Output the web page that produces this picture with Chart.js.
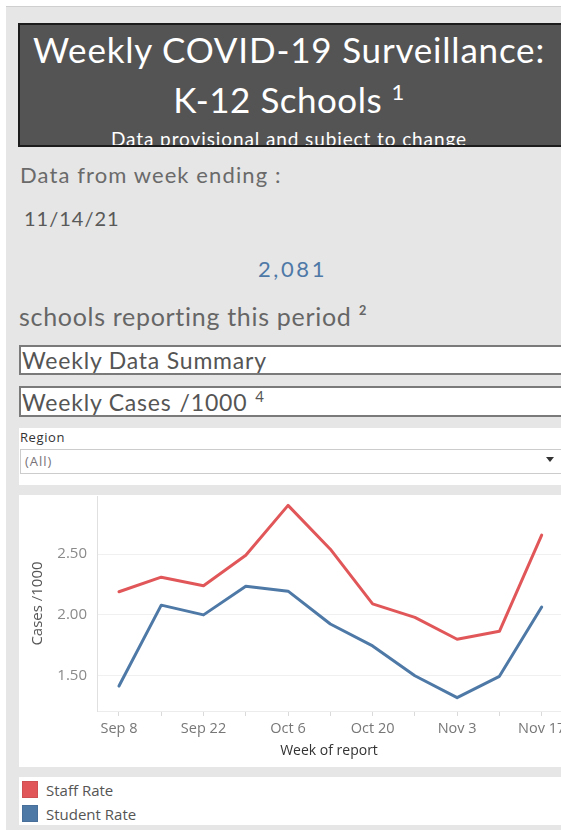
<!DOCTYPE html>
<html>
<head>
<meta charset="utf-8">
<script src="https://cdn.jsdelivr.net/npm/chart.js@4.4.0/dist/chart.umd.min.js"></script>
<style>
  html, body { margin:0; padding:0; width:561px; height:830px; overflow:hidden; background:#ffffff; }
  .abs { position:absolute; white-space:pre; }
  #bg { left:6px; top:6px; width:600px; height:830px; background:#e6e6e6; border-top:1px solid #cfcfcf; }
  #header { left:18px; top:23px; width:600px; height:120px; background:#545454; border:2px solid #1c1c1c; overflow:hidden; }
  .htxt { left:-20px; width:578px; text-align:center; color:#ffffff; font-family:Lato, "Open Sans", sans-serif; }
  .lato { font-family:Lato, "Open Sans", sans-serif; }
  .box { left:19px; width:600px; background:#fff; border:2px solid #7a7a7a; }
  .panel { left:19px; width:600px; background:#fff; }
  .os { font-family:"Open Sans", sans-serif; }
  #chartWrap { position:absolute; left:19px; top:495px; width:542px; height:272px; }
  #chartWrap canvas { display:block; }
</style>
</head>
<body>
<div id="bg" class="abs"></div>
<div id="header" class="abs">
  <div class="abs htxt" style="top:7px; font-size:35px; line-height:35px; letter-spacing:0.8px;">Weekly COVID-19 Surveillance:</div>
  <div class="abs htxt" style="top:57px; font-size:35px; line-height:35px; letter-spacing:0.5px;">K-12 Schools <span style="font-size:22px; position:relative; top:-13px;">1</span></div>
  <div class="abs htxt" style="top:104px; font-size:19px; line-height:19px; letter-spacing:0.9px;">Data provisional and subject to change</div>
</div>

<div class="abs lato" style="left:20px; top:164px; font-size:22px; line-height:22px; letter-spacing:1.1px; color:#6a6a6a;">Data from week ending :</div>
<div class="abs lato" style="left:24px; top:208px; font-size:20px; line-height:20px; letter-spacing:1px; color:#595959;">11/14/21</div>
<div class="abs lato" style="left:258px; top:258px; font-size:22px; line-height:22px; letter-spacing:2.6px; color:#4e79a7;">2,081</div>
<div class="abs lato" style="left:19px; top:304px; font-size:25px; line-height:25px; letter-spacing:0.7px; color:#666666;">schools reporting this period ²</div>

<div class="abs box" style="top:345px; height:26px;"></div>
<div class="abs lato" style="left:22px; top:349px; font-size:23px; line-height:23px; letter-spacing:0.8px; color:#555;">Weekly Data Summary</div>
<div class="abs box" style="top:386px; height:27px;"></div>
<div class="abs lato" style="left:22px; top:391px; font-size:23px; line-height:23px; letter-spacing:0.8px; color:#555;">Weekly Cases<span style="margin-left:8px;">/1000</span><span style="margin-left:8px; font-size:15px; position:relative; top:-9px;">4</span></div>

<div class="abs panel" style="top:428px; height:57px;"></div>
<div class="abs os" style="left:20px; top:431px; font-size:13px; line-height:13px; letter-spacing:0.6px; color:#333;">Region</div>
<div class="abs" style="left:20px; top:449px; width:600px; height:23px; border:1px solid #cccccc; background:#fff;"></div>
<div class="abs os" style="left:25px; top:455px; font-size:13px; line-height:13px; letter-spacing:1px; color:#787378;">(All)</div>
<div class="abs" style="left:546px; top:457px; width:0; height:0; border-left:4px solid transparent; border-right:4px solid transparent; border-top:5px solid #333;"></div>

<div class="abs panel" style="top:495px; height:272px;"></div>
<div id="chartWrap"><canvas id="c" width="542" height="272" style="width:542px;height:272px;"></canvas></div>

<div class="abs panel" style="top:777px; height:48px;" id="legend"></div>

<script>
const weeks = ['Sep 8','Sep 15','Sep 22','Sep 29','Oct 6','Oct 13','Oct 20','Oct 27','Nov 3','Nov 10','Nov 17'];
const staffRate   = [2.19, 2.31, 2.24, 2.49, 2.90, 2.54, 2.09, 1.98, 1.80, 1.865, 2.655];
const studentRate = [1.415, 2.08, 2.00, 2.235, 2.195, 1.925, 1.745, 1.50, 1.32, 1.495, 2.065];
const seriesNames = ['Staff Rate', 'Student Rate'];
const seriesColors = ['#e15759', '#4e79a7'];
const yTicks = [1.5, 2.0, 2.5];

const toPts = arr => arr.map((v, i) => ({ x: i, y: v }));

const chart = new Chart(document.getElementById('c'), {
  type: 'line',
  data: {
    datasets: [
      { label: seriesNames[0], data: toPts(staffRate), borderColor: seriesColors[0], backgroundColor: seriesColors[0] },
      { label: seriesNames[1], data: toPts(studentRate), borderColor: seriesColors[1], backgroundColor: seriesColors[1] }
    ]
  },
  options: {
    responsive: false,
    animation: false,
    devicePixelRatio: 1,
    layout: { padding: { top: 1, left: 0, right: 0, bottom: 0 }, autoPadding: false },
    elements: {
      point: { radius: 0, hoverRadius: 0 },
      line: { borderWidth: 3, tension: 0, borderJoinStyle: 'round', borderCapStyle: 'round' }
    },
    plugins: { legend: { display: false }, tooltip: { enabled: false } },
    scales: {
      x: {
        type: 'linear',
        min: -0.52,
        max: 10.457,
        afterBuildTicks: s => { s.ticks = weeks.map((_, i) => ({ value: i })); },
        afterFit: s => { s.height = 56; s.paddingLeft = 0; s.paddingRight = 0; },
        grid: { drawOnChartArea: false, drawTicks: true, tickLength: 5, color: '#dadada' },
        border: { display: true, color: '#ececec' },
        ticks: {
          autoSkip: false, maxRotation: 0, minRotation: 0, padding: 4,
          color: '#777777', font: { family: 'Open Sans', size: 14.5 },
          callback: (v, i) => (i % 2 === 0 ? weeks[Math.round(v)] : '')
        },
        title: { display: true, text: 'Week of report', color: '#333333', font: { family: 'Open Sans', size: 14 }, padding: { top: 0, bottom: 8 } }
      },
      y: {
        min: 1.21,
        max: 2.977,
        afterBuildTicks: s => { s.ticks = yTicks.map(v => ({ value: v })); },
        afterFit: s => { s.width = 78; s.paddingTop = 0; s.paddingBottom = 0; },
        grid: { color: '#f0f0f0', drawTicks: false },
        border: { display: true, color: '#e0e0e0' },
        ticks: {
          padding: 10, color: '#8a8a8a', font: { family: 'Open Sans', size: 15 },
          callback: v => Number(v).toFixed(2)
        },
        title: { display: true, text: 'Cases /1000', color: '#555555', font: { family: 'Open Sans', size: 15 }, padding: { top: 10, bottom: 0 } }
      }
    }
  }
});

// HTML legend built from the chart's datasets
const legend = document.getElementById('legend');
chart.data.datasets.forEach((ds, i) => {
  const sw = document.createElement('div');
  sw.className = 'abs';
  sw.style.cssText = `left:3px; top:${4 + i * 24}px; width:16px; height:17px; background:${ds.backgroundColor}; box-sizing:border-box; border:1px solid rgba(0,0,0,0.08);`;
  legend.appendChild(sw);
  const lb = document.createElement('div');
  lb.className = 'abs os';
  lb.style.cssText = `left:27px; top:${6 + i * 24}px; font-size:15px; line-height:15px; color:#555;`;
  lb.textContent = ds.label;
  legend.appendChild(lb);
});
</script>
</body>
</html>
